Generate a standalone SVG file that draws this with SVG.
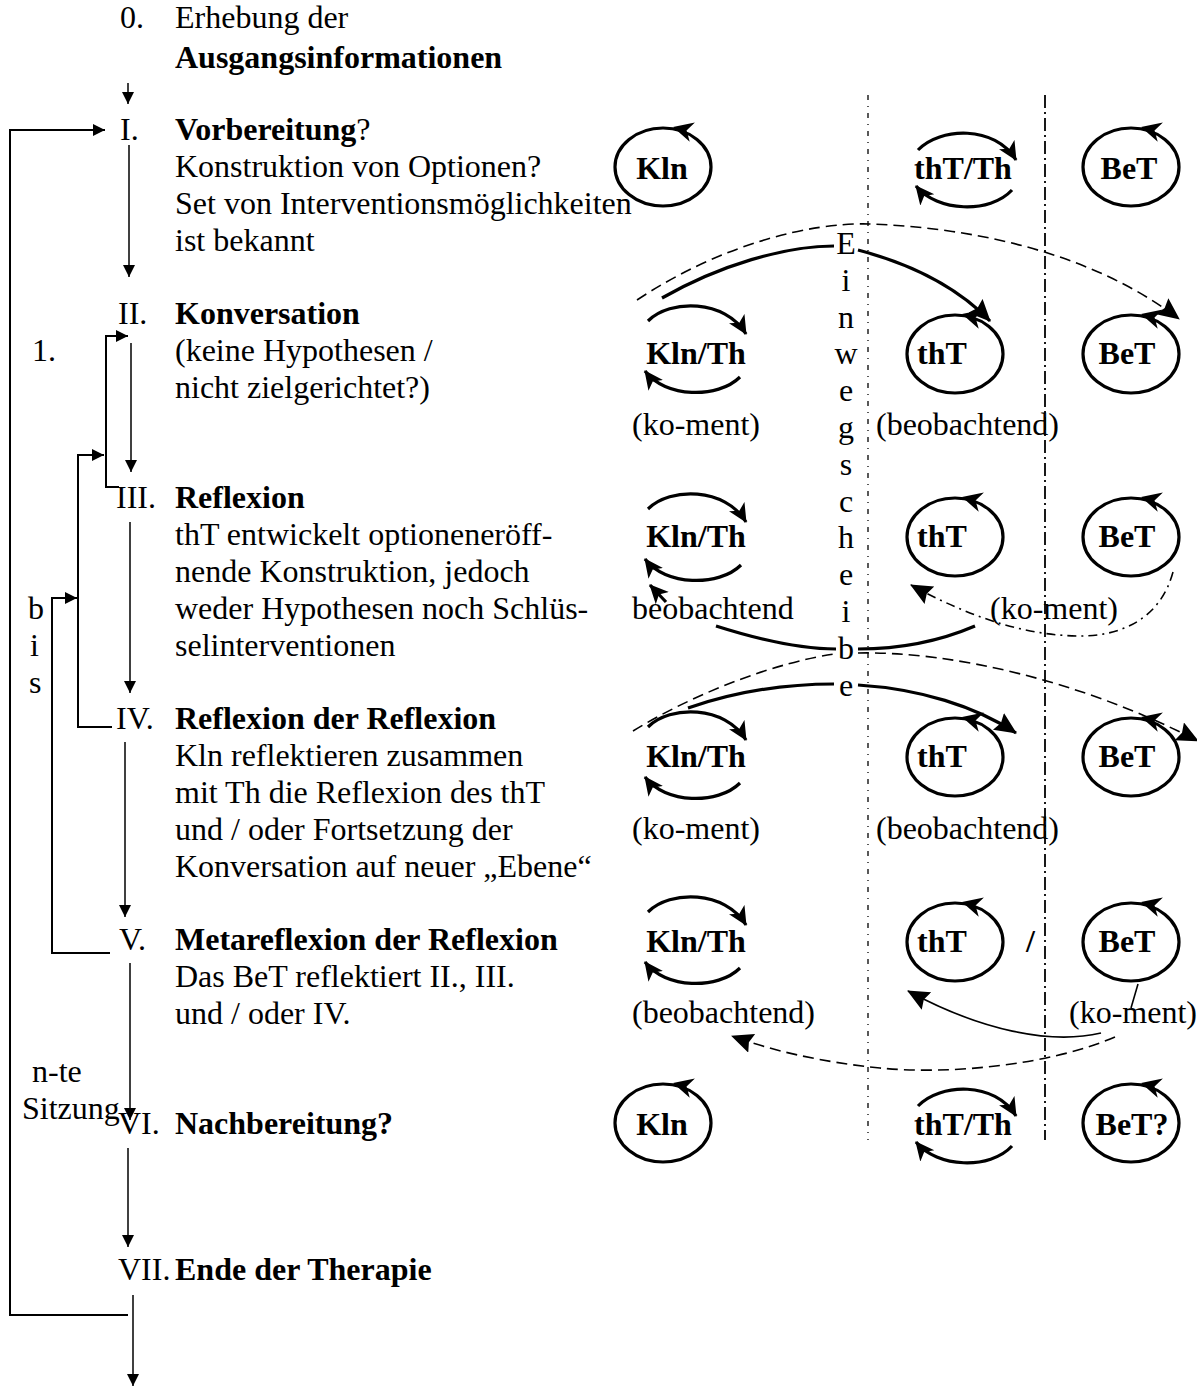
<svg xmlns="http://www.w3.org/2000/svg" xmlns:xlink="http://www.w3.org/1999/xlink" width="1197" height="1387" viewBox="0 0 1197 1387">
  <style>
    text { font-family: "Liberation Serif", "Times New Roman", serif; font-size: 32px; fill: #000; }
    .b { font-weight: bold; }
    .flow { stroke: #000; stroke-width: 1.5; fill: none; }
    .brk { stroke: #000; stroke-width: 2; fill: none; }
    .ell { stroke: #000; stroke-width: 3.2; fill: none; }
    .arc { stroke: #000; stroke-width: 3.2; fill: none; }
    .thick { stroke: #000; stroke-width: 3.2; fill: none; }
    .dash { stroke: #000; stroke-width: 1.6; fill: none; stroke-dasharray: 11 6; }
    .dashdot { stroke: #000; stroke-width: 1.6; fill: none; stroke-dasharray: 9 5 2 5; }
    .thin { stroke: #000; stroke-width: 1.6; fill: none; }
    .sepA { stroke: #000; stroke-width: 1.3; fill: none; stroke-dasharray: 5 6 1 6; }
    .sepB { stroke: #000; stroke-width: 1.8; fill: none; stroke-dasharray: 13 4 2 4; }
  </style>
  <defs>
    <!-- small flow arrowhead -->
    <marker id="tri" markerUnits="userSpaceOnUse" markerWidth="14" markerHeight="14" refX="12" refY="6" orient="auto">
      <path d="M0,0 L12,6 L0,12 Z" fill="#000"/>
    </marker>
    <!-- barbed arrowhead used on the loops -->
    <marker id="stealth" markerUnits="userSpaceOnUse" markerWidth="24" markerHeight="24" refX="18" refY="9" orient="auto">
      <path d="M0,0 L19,9 L0,18 L5,9 Z" fill="#000"/>
    </marker>
    <!-- large filled arrowhead for the long connectors -->
    <marker id="big" markerUnits="userSpaceOnUse" markerWidth="26" markerHeight="26" refX="21" refY="10" orient="auto">
      <path d="M0,0 L22,10 L0,20 L3,10 Z" fill="#000"/>
    </marker>
    <path id="ah" d="M0,0 L-20,-10 L-14,0 L-20,10 Z" fill="#000"/>
  </defs>

  <!-- separators between the rooms -->
  <g id="separators">
    <line class="sepA" x1="868" y1="95" x2="868" y2="1140"/>
    <line class="sepB" x1="1045" y1="95" x2="1045" y2="1140"/>
  </g>

  <!-- process steps on the left -->
  <g id="step-0">
    <text x="120" y="28">0.</text>
    <text x="175" y="28">Erhebung der</text>
    <text x="175" y="68" class="b">Ausgangsinformationen</text>
  </g>
  <g id="step-I">
    <text x="120" y="140">I.</text>
    <text x="175" y="140"><tspan class="b">Vorbereitung</tspan>?</text>
    <text x="175" y="177">Konstruktion von Optionen?</text>
    <text x="175" y="214">Set von Interventionsmöglichkeiten</text>
    <text x="175" y="251">ist bekannt</text>
  </g>
  <g id="step-II">
    <text x="118" y="324">II.</text>
    <text x="175" y="324" class="b">Konversation</text>
    <text x="175" y="361">(keine Hypothesen /</text>
    <text x="175" y="398">nicht zielgerichtet?)</text>
  </g>
  <g id="step-III">
    <text x="116" y="508">III.</text>
    <text x="175" y="508" class="b">Reflexion</text>
    <text x="175" y="545">thT entwickelt optioneneröff-</text>
    <text x="175" y="582">nende Konstruktion, jedoch</text>
    <text x="175" y="619">weder Hypothesen noch Schlüs-</text>
    <text x="175" y="656">selinterventionen</text>
  </g>
  <g id="step-IV">
    <text x="116" y="729">IV.</text>
    <text x="175" y="729" class="b">Reflexion der Reflexion</text>
    <text x="175" y="766">Kln reflektieren zusammen</text>
    <text x="175" y="803">mit Th die Reflexion des thT</text>
    <text x="175" y="840">und / oder Fortsetzung der</text>
    <text x="175" y="877">Konversation auf neuer „Ebene“</text>
  </g>
  <g id="step-V">
    <text x="119" y="950">V.</text>
    <text x="175" y="950" class="b">Metareflexion der Reflexion</text>
    <text x="175" y="987">Das BeT reflektiert II., III.</text>
    <text x="175" y="1024">und / oder IV.</text>
  </g>
  <g id="step-VI">
    <text x="118" y="1134">VI.</text>
    <text x="175" y="1134" class="b">Nachbereitung?</text>
  </g>
  <g id="step-VII">
    <text x="118" y="1280">VII.</text>
    <text x="175" y="1280" class="b">Ende der Therapie</text>
  </g>

  <!-- side labels -->
  <g id="side-labels">
    <text x="32" y="361">1.</text>
    <text x="28" y="619">b</text>
    <text x="30" y="656">i</text>
    <text x="29" y="693">s</text>
    <text x="32" y="1082">n-te</text>
    <text x="22" y="1119">Sitzung</text>
  </g>

  <!-- one-way mirror caption -->
  <g id="mirror-caption">
    <text x="846" y="254" text-anchor="middle">E</text>
    <text x="846" y="290.8" text-anchor="middle">i</text>
    <text x="846" y="327.6" text-anchor="middle">n</text>
    <text x="846" y="364.4" text-anchor="middle">w</text>
    <text x="846" y="401.2" text-anchor="middle">e</text>
    <text x="846" y="438" text-anchor="middle">g</text>
    <text x="846" y="474.8" text-anchor="middle">s</text>
    <text x="846" y="511.6" text-anchor="middle">c</text>
    <text x="846" y="548.4" text-anchor="middle">h</text>
    <text x="846" y="585.2" text-anchor="middle">e</text>
    <text x="846" y="622" text-anchor="middle">i</text>
    <text x="846" y="658.8" text-anchor="middle">b</text>
    <text x="846" y="695.6" text-anchor="middle">e</text>
  </g>

  <!-- row I -->
  <g id="row-I-kln">
    <ellipse class="ell" cx="663" cy="167" rx="48" ry="39"/>
    <use xlink:href="#ah" transform="translate(673,127) rotate(195)"/>
    <text x="662" y="179" class="b" text-anchor="middle">Kln</text>
  </g>
  <g id="row-I-tht">
    <path class="arc" d="M918 150 C940 127 995 125 1016 160" marker-end="url(#stealth)"/>
    <path class="arc" d="M1012 190 C990 214 937 212 916 186" marker-end="url(#stealth)"/>
    <text x="963" y="179" class="b" text-anchor="middle">thT/Th</text>
  </g>
  <g id="row-I-bet">
    <ellipse class="ell" cx="1131" cy="167" rx="48" ry="39"/>
    <use xlink:href="#ah" transform="translate(1141,127) rotate(195)"/>
    <text x="1129" y="179" class="b" text-anchor="middle">BeT</text>
  </g>

  <!-- row II -->
  <g id="row-II-kln">
    <path class="arc" d="M648 321 C670 299 725 299 746 334" marker-end="url(#stealth)"/>
    <path class="arc" d="M740 377 C718 399 665 398 645 371" marker-end="url(#stealth)"/>
    <text x="696" y="364" class="b" text-anchor="middle">Kln/Th</text>
    <text x="632" y="435">(ko-ment)</text>
  </g>
  <g id="row-II-tht">
    <ellipse class="ell" cx="955" cy="354" rx="48" ry="39"/>
    <use xlink:href="#ah" transform="translate(962,314) rotate(195)"/>
    <text x="942" y="364" class="b" text-anchor="middle">thT</text>
    <text x="876" y="435">(beobachtend)</text>
  </g>
  <g id="row-II-bet">
    <ellipse class="ell" cx="1131" cy="354" rx="48" ry="39"/>
    <use xlink:href="#ah" transform="translate(1141,314) rotate(195)"/>
    <text x="1127" y="364" class="b" text-anchor="middle">BeT</text>
  </g>

  <!-- row III -->
  <g id="row-III-kln">
    <path class="arc" d="M648 509 C670 487 725 487 746 522" marker-end="url(#stealth)"/>
    <path class="arc" d="M741 565 C719 587 665 586 645 559" marker-end="url(#stealth)"/>
    <text x="696" y="547" class="b" text-anchor="middle">Kln/Th</text>
    <text x="632" y="619">beobachtend</text>
  </g>
  <g id="row-III-tht">
    <ellipse class="ell" cx="955" cy="537" rx="48" ry="39"/>
    <use xlink:href="#ah" transform="translate(962,497) rotate(195)"/>
    <text x="942" y="547" class="b" text-anchor="middle">thT</text>
  </g>
  <g id="row-III-bet">
    <ellipse class="ell" cx="1131" cy="537" rx="48" ry="39"/>
    <use xlink:href="#ah" transform="translate(1141,497) rotate(195)"/>
    <text x="1127" y="547" class="b" text-anchor="middle">BeT</text>
    <text x="990" y="619">(ko-ment)</text>
  </g>

  <!-- row IV -->
  <g id="row-IV-kln">
    <path class="arc" d="M648 727 C670 705 725 705 746 740" marker-end="url(#stealth)"/>
    <path class="arc" d="M740 783 C718 805 665 804 645 777" marker-end="url(#stealth)"/>
    <text x="696" y="767" class="b" text-anchor="middle">Kln/Th</text>
    <text x="632" y="839">(ko-ment)</text>
  </g>
  <g id="row-IV-tht">
    <ellipse class="ell" cx="955" cy="757" rx="48" ry="39"/>
    <use xlink:href="#ah" transform="translate(962,717) rotate(195)"/>
    <text x="942" y="767" class="b" text-anchor="middle">thT</text>
    <text x="876" y="839">(beobachtend)</text>
  </g>
  <g id="row-IV-bet">
    <ellipse class="ell" cx="1131" cy="757" rx="48" ry="39"/>
    <use xlink:href="#ah" transform="translate(1141,717) rotate(195)"/>
    <text x="1127" y="767" class="b" text-anchor="middle">BeT</text>
  </g>

  <!-- row V -->
  <g id="row-V-kln">
    <path class="arc" d="M648 912 C670 890 725 890 746 925" marker-end="url(#stealth)"/>
    <path class="arc" d="M740 968 C718 990 665 989 645 962" marker-end="url(#stealth)"/>
    <text x="696" y="952" class="b" text-anchor="middle">Kln/Th</text>
    <text x="632" y="1023">(beobachtend)</text>
  </g>
  <g id="row-V-tht">
    <ellipse class="ell" cx="955" cy="942" rx="48" ry="39"/>
    <use xlink:href="#ah" transform="translate(962,902) rotate(195)"/>
    <text x="942" y="952" class="b" text-anchor="middle">thT</text>
    <text x="1026" y="952" class="b">/</text>
  </g>
  <g id="row-V-bet">
    <ellipse class="ell" cx="1131" cy="942" rx="48" ry="39"/>
    <use xlink:href="#ah" transform="translate(1141,902) rotate(195)"/>
    <text x="1127" y="952" class="b" text-anchor="middle">BeT</text>
    <text x="1069" y="1023">(ko-ment)</text>
  </g>

  <!-- row VI -->
  <g id="row-VI-kln">
    <ellipse class="ell" cx="663" cy="1123" rx="48" ry="39"/>
    <use xlink:href="#ah" transform="translate(673,1083) rotate(195)"/>
    <text x="662" y="1135" class="b" text-anchor="middle">Kln</text>
  </g>
  <g id="row-VI-tht">
    <path class="arc" d="M918 1106 C940 1083 995 1081 1016 1116" marker-end="url(#stealth)"/>
    <path class="arc" d="M1012 1146 C990 1170 937 1168 916 1142" marker-end="url(#stealth)"/>
    <text x="963" y="1135" class="b" text-anchor="middle">thT/Th</text>
  </g>
  <g id="row-VI-bet">
    <ellipse class="ell" cx="1131" cy="1123" rx="48" ry="39"/>
    <use xlink:href="#ah" transform="translate(1141,1083) rotate(195)"/>
    <text x="1132" y="1135" class="b" text-anchor="middle">BeT?</text>
  </g>

  <!-- connectors -->
  <g id="connectors">
    <!-- main flow -->
    <line class="flow" x1="128" y1="83" x2="128" y2="104" marker-end="url(#tri)"/>
    <line class="flow" x1="129" y1="145" x2="129" y2="277" marker-end="url(#tri)"/>
    <line class="flow" x1="131" y1="343" x2="131" y2="472" marker-end="url(#tri)"/>
    <line class="flow" x1="130" y1="522" x2="130" y2="693" marker-end="url(#tri)"/>
    <line class="flow" x1="125" y1="742" x2="125" y2="917" marker-end="url(#tri)"/>
    <line class="flow" x1="130" y1="963" x2="130" y2="1120" marker-end="url(#tri)"/>
    <line class="flow" x1="128" y1="1148" x2="128" y2="1247" marker-end="url(#tri)"/>
    <line class="flow" x1="133" y1="1295" x2="133" y2="1386" marker-end="url(#tri)"/>

    <!-- loop back to preparation -->
    <path class="brk" d="M128 1315 H10 V130 H105" marker-end="url(#tri)"/>
    <!-- repeat brackets -->
    <path class="brk" d="M119 487 H106 V336 H128" marker-end="url(#tri)"/>
    <path class="brk" d="M112 727 H78 V455 H104" marker-end="url(#tri)"/>
    <path class="brk" d="M110 953 H52 V598 H77" marker-end="url(#tri)"/>

    <!-- Kln/Th to observers, row I to II -->
    <path class="dash" d="M637 300 C720 245 810 222 870 224 C980 228 1095 255 1179 319" marker-end="url(#big)"/>
    <path class="thick" d="M662 298 C720 265 785 246 834 246"/>
    <path class="thick" d="M858 250 C915 265 960 290 990 321" marker-end="url(#big)"/>

    <!-- back to Kln/Th, row III -->
    <path class="thick" d="M716 626 C760 640 800 649 836 649"/>
    <path class="thick" d="M858 649 C900 649 940 641 975 626"/>
    <path class="thick" d="M666 602 L650 585" marker-end="url(#stealth)"/>
    <path class="dashdot" d="M1173 572 C1160 620 1120 636 1080 636 C1020 636 960 612 911 585" marker-end="url(#big)"/>

    <!-- row III to IV -->
    <path class="dash" d="M633 731 C700 690 780 662 834 654"/>
    <path class="dash" d="M858 653 C950 651 1080 680 1198 741" marker-end="url(#big)"/>
    <path class="thick" d="M688 708 C740 690 790 684 834 684"/>
    <path class="thick" d="M858 685 C920 689 975 706 1016 733" marker-end="url(#big)"/>

    <!-- row V feedback -->
    <path class="thin" d="M1138 984 L1131 1008"/>
    <path class="thin" d="M1101 1033 C1050 1045 980 1030 908 991" marker-end="url(#big)"/>
    <path class="dash" d="M1115 1037 C1050 1065 950 1075 880 1068 C820 1062 770 1050 732 1036" marker-end="url(#big)"/>
  </g>
</svg>
